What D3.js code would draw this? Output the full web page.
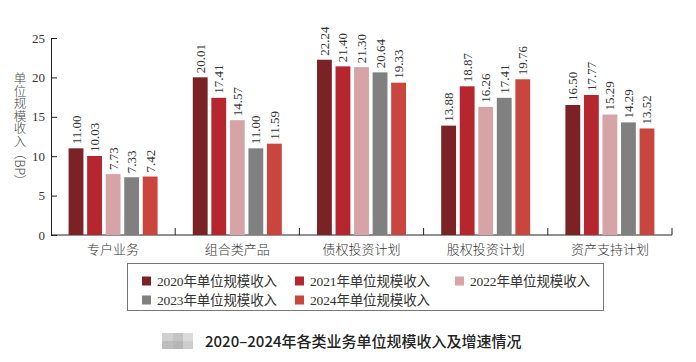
<!DOCTYPE html>
<html>
<head>
<meta charset="utf-8">
<script src="https://cdn.jsdelivr.net/npm/d3@7"></script>
<style>
  body { margin: 0; background: #fff; }
  svg { display: block; }
</style>
</head>
<body>
<div id="chart"></div>
<script>
// data
const categories = ["专户业务", "组合类产品", "债权投资计划", "股权投资计划", "资产支持计划"];
const years = ["2020", "2021", "2022", "2023", "2024"];
const v2020 = [11.00, 20.01, 22.24, 13.88, 16.50];
const v2021 = [10.03, 17.41, 21.40, 18.87, 17.77];
const v2022 = [7.73, 14.57, 21.30, 16.26, 15.29];
const v2023 = [7.33, 11.00, 20.64, 17.41, 14.29];
const v2024 = [7.42, 11.59, 19.33, 19.76, 13.52];
const yTicks = [0, 5, 10, 15, 20, 25];
const title = "2020–2024年各类业务单位规模收入及增速情况";

const series = [v2020, v2021, v2022, v2023, v2024];
const colors = ["#7a2226", "#b5262f", "#d6a3a6", "#808080", "#c8463d"];

const width = 696, height = 362;
const margin = { top: 38, left: 51, right: 24, bottom: 127 };
const serif = "'Liberation Serif', 'Noto Sans CJK SC', serif";

const svg = d3.select("#chart")
  .append("svg")
  .attr("width", width)
  .attr("height", height);

const x0 = d3.scaleBand()
  .domain(categories)
  .range([margin.left, width - margin.right]);

const x1 = d3.scaleBand()
  .domain(years)
  .range([0, 89])
  .paddingInner(0.2);

const y = d3.scaleLinear()
  .domain([0, 25])
  .range([height - margin.bottom, margin.top]);

// y axis
const yAxis = svg.append("g")
  .attr("transform", `translate(${margin.left},0)`)
  .call(d3.axisLeft(y).tickValues(yTicks).tickSize(-6).tickPadding(6).tickSizeOuter(0));
yAxis.select(".domain").attr("stroke", "#222");
yAxis.selectAll(".tick line").attr("stroke", "#222");
yAxis.selectAll("text")
  .attr("font-family", serif)
  .attr("font-size", 13)
  .attr("fill", "#333");

// x axis: ticks at category borders
const base = y(0);
svg.append("line")
  .attr("x1", margin.left).attr("x2", width - margin.right)
  .attr("y1", base).attr("y2", base)
  .attr("stroke", "#222");
svg.selectAll(".xt")
  .data(categories)
  .join("line")
  .attr("x1", d => x0(d) + x0.bandwidth())
  .attr("x2", d => x0(d) + x0.bandwidth())
  .attr("y1", base).attr("y2", base - 7)
  .attr("stroke", "#222");

svg.selectAll(".cat")
  .data(categories)
  .join("text")
  .attr("x", d => x0(d) + x0.bandwidth() / 2)
  .attr("y", base + 19)
  .attr("text-anchor", "middle")
  .attr("font-family", "'Noto Sans CJK SC', sans-serif")
  .attr("font-weight", 300)
  .attr("font-size", 13)
  .attr("fill", "#333")
  .text(d => d);

// bars
const groups = svg.selectAll(".grp")
  .data(categories)
  .join("g")
  .attr("transform", d => `translate(${x0(d) + (x0.bandwidth() - 89) / 2},0)`);

groups.each(function (cat, ci) {
  const g = d3.select(this);
  const vals = years.map((yr, si) => ({ yr: yr, v: series[si][ci], c: colors[si] }));
  g.selectAll("rect")
    .data(vals)
    .join("rect")
    .attr("x", d => x1(d.yr))
    .attr("width", x1.bandwidth())
    .attr("y", d => y(d.v))
    .attr("height", d => base - y(d.v))
    .attr("fill", d => d.c);
  g.selectAll("text")
    .data(vals)
    .join("text")
    .attr("transform", d => `translate(${x1(d.yr) + x1.bandwidth() / 2 + 4.5},${y(d.v) - 4}) rotate(-90)`)
    .attr("font-family", serif)
    .attr("font-size", 13)
    .attr("fill", "#333")
    .text(d => d.v.toFixed(2));
});

// y axis title, vertical writing (CJK upright, BP turned)
svg.append("text")
  .attr("x", 20)
  .attr("y", 72)
  .style("writing-mode", "vertical-rl")
  .attr("font-family", "'Noto Sans CJK SC', sans-serif")
  .attr("font-weight", 300)
  .attr("font-size", 12.5)
  .attr("fill", "#444")
  .text("单位规模收入（BP）");

// legend
svg.append("rect")
  .attr("x", 127.5).attr("y", 263.5)
  .attr("width", 476).attr("height", 47)
  .attr("fill", "none")
  .attr("stroke", "#777");

const legX = [142, 295, 455];
const leg = svg.selectAll(".leg")
  .data(years)
  .join("g")
  .attr("transform", (d, i) => `translate(${legX[i % 3]},${i < 3 ? 281 : 300})`);
leg.append("rect")
  .attr("x", 0).attr("y", -4.5)
  .attr("width", 9).attr("height", 9)
  .attr("fill", (d, i) => colors[i]);
leg.append("text")
  .attr("x", 15)
  .attr("y", 5)
  .attr("font-family", serif)
  .attr("font-size", 13.5)
  .attr("textLength", 120)
  .attr("lengthAdjust", "spacing")
  .attr("fill", "#333")
  .text(d => d + "年单位规模收入");

// blurred logo placeholder and caption
const blur = svg.append("g");
[["#d0d0d0", 162, 333, 11, 8], ["#c4c4c4", 173, 333, 10, 8], ["#dadada", 183, 333, 10, 8],
 ["#bdbdbd", 162, 341, 11, 8], ["#b6b6b6", 173, 341, 10, 8], ["#cccccc", 183, 341, 10, 8]]
  .forEach(b => blur.append("rect").attr("fill", b[0]).attr("x", b[1]).attr("y", b[2]).attr("width", b[3]).attr("height", b[4]));

svg.append("text")
  .attr("x", 205)
  .attr("y", 347)
  .attr("font-family", "'Noto Sans CJK SC', sans-serif")
  .attr("font-weight", 500)
  .attr("font-size", 15)
  .attr("fill", "#222")
  .text(title);
</script>
</body>
</html>
